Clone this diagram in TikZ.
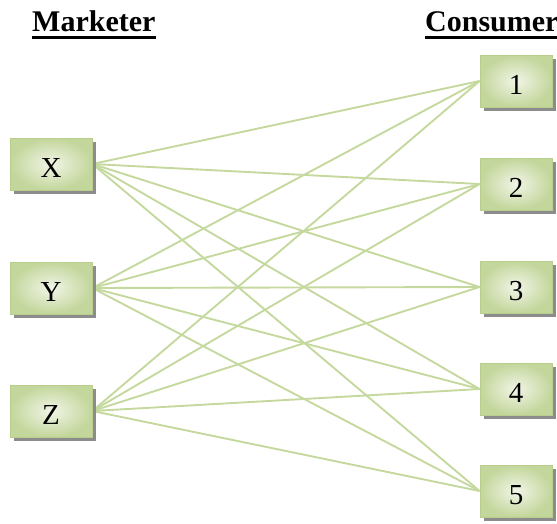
\documentclass[tikz,border=0pt]{standalone}
\usepackage{fontspec}
\setmainfont{Liberation Serif}
\usetikzlibrary{shadows,backgrounds}
\definecolor{boxdark}{HTML}{C3D69B}
\definecolor{boxlight}{HTML}{F1F5E7}
\definecolor{boxedge}{HTML}{B9CE8C}
\definecolor{linkcol}{HTML}{C5D89E}
\tikzset{
  mbox/.style={rectangle, draw=boxedge, line width=0.8pt, inner sep=0pt,
    minimum width=82pt, minimum height=52pt, text height=26pt, text depth=0pt,
    shading=radial, inner color=boxlight, outer color=boxdark,
    drop shadow={shadow xshift=3.5pt, shadow yshift=-3.5pt, fill=black!45, opacity=1},
    font=\fontsize{29}{29}\selectfont},
  cbox/.style={mbox, minimum width=72pt},
  link/.style={draw=linkcol, line width=1.9pt},
  title/.style={inner sep=0pt, anchor=base west, font=\fontsize{30}{30}\selectfont\bfseries},
  uline/.style={line width=3pt}
}
\begin{document}
\begin{tikzpicture}[x=1pt,y=-1pt]
\useasboundingbox (0,0) rectangle (557,523);
\node[title] (tm) at (32,31) {Marketer};
\node[title] (tc) at (425,31) {Consumer};
\draw[uline] ([yshift=-6.5pt]tm.base west) -- ([yshift=-6.5pt]tm.base east);
\draw[uline] ([yshift=-6.5pt]tc.base west) -- ([yshift=-6.5pt]tc.base east);

\node[mbox] (X) at (51,164) {X};
\node[mbox] (Y) at (51,288) {Y};
\node[mbox] (Z) at (51,411) {Z};

\node[cbox] (c1) at (516,81) {1};
\node[cbox] (c2) at (516,184) {2};
\node[cbox] (c3) at (516,287) {3};
\node[cbox] (c4) at (516,389) {4};
\node[cbox] (c5) at (516,491) {5};

\begin{scope}[on background layer]
\foreach \m in {X,Y,Z}{
  \foreach \c in {c1,c2,c3,c4,c5}{
    \draw[link] (\m.east) -- (\c.west);
  }
}
\end{scope}
\end{tikzpicture}
\end{document}
